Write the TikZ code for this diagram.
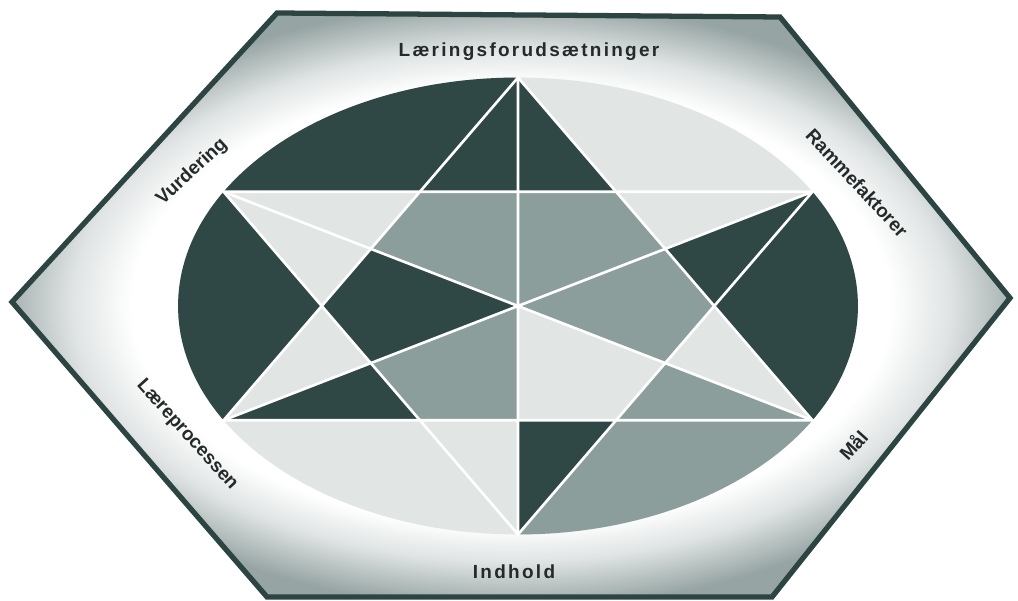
\documentclass[tikz,border=0pt]{standalone}
\usepackage{fontspec}
\setmainfont{Liberation Sans}
\newfontfamily\spacedfont[LetterSpace=12]{Liberation Sans}
\usetikzlibrary{calc}
\definecolor{StarDark}{HTML}{2F4745}
\definecolor{StarMid}{HTML}{8C9E9C}
\definecolor{StarLight}{HTML}{E1E5E4}
\definecolor{RimGray}{HTML}{96A4A3}
\definecolor{RimLine}{HTML}{2C4442}
\definecolor{LabelInk}{HTML}{242A2A}
\pgfdeclareradialshading{rimglow}{\pgfpoint{0bp}{0bp}}{%
  color(0bp)=(white); color(19bp)=(white); color(22bp)=(RimGray!30); color(26bp)=(RimGray); color(50bp)=(RimGray)}
\tikzset{
  darkpart/.style={fill=StarDark},
  midpart/.style={fill=StarMid},
  lightpart/.style={fill=StarLight},
  divider/.style={draw=white, line width=1.5pt},
  rimlabel/.style={font=\bfseries\fontsize{10.8}{13}\selectfont, text=LabelInk, inner sep=0pt},
  flatlabel/.style={rimlabel, font=\spacedfont\bfseries\fontsize{10.8}{13}\selectfont}
}

\begin{document}
\begin{tikzpicture}[x=0.02cm, y=-0.02cm]
    \useasboundingbox (0,0) rectangle (1018,601);

    % hexagon frame with the white glow round the ellipse
    \shadedraw[shading=rimglow, draw=RimLine, line width=3pt, line join=miter]
      (277,13) -- (780,17) -- (1010,298) -- (772,597) -- (267,597) -- (12,302) -- cycle;

    \begin{scope}[shift={(518,306)}, x=6.8cm, y=4.57cm]
      \foreach \a in {90,30,330,270,210,150} {
        \coordinate (o\a) at (\a:1);
        \coordinate (m\a) at (\a:0.5);
      }
      \foreach \a in {0,60,120,180,240,300}
        \coordinate (v\a) at (\a:0.57735);
      \coordinate (c) at (0,0);

      \begin{scope}
        \clip (0,0) ellipse[x radius=6.8cm, y radius=4.57cm];
        \fill[lightpart] (0,0) circle[radius=1.2];
        % caps between the star points
        \fill[darkpart] (o90) -- (v120) -- (o150) -- (150:1.6) -- (90:1.6) -- cycle;
        \fill[darkpart] (o30) -- (v0) -- (o330) -- (330:1.6) -- (30:1.6) -- cycle;
        \fill[darkpart] (o150) -- (v180) -- (o210) -- (210:1.6) -- (150:1.6) -- cycle;
        \fill[midpart] (o330) -- (v300) -- (o270) -- (270:1.6) -- (330:1.6) -- cycle;
        % star points
        \fill[darkpart] (o90) -- (v120) -- (v60) -- cycle;
        \fill[darkpart] (o30) -- (m30) -- (v0) -- cycle;
        \fill[midpart] (o330) -- (m330) -- (v300) -- cycle;
        \fill[darkpart] (o270) -- (v300) -- (m270) -- cycle;
        \fill[darkpart] (o210) -- (v240) -- (m210) -- cycle;
        % inner hexagon
        \fill[midpart] (c) -- (m90) -- (v120) -- (m150) -- cycle;
        \fill[midpart] (c) -- (m90) -- (v60) -- (m30) -- cycle;
        \fill[midpart] (c) -- (m30) -- (v0) -- (m330) -- cycle;
        \fill[midpart] (c) -- (m270) -- (v240) -- (m210) -- cycle;
        \fill[darkpart] (c) -- (m210) -- (v180) -- (m150) -- cycle;
      \end{scope}

      \draw[divider] (o90) -- (o210) -- (o330) -- cycle;
      \draw[divider] (o270) -- (o150) -- (o30) -- cycle;
      \draw[divider] (o90) -- (o270) (o150) -- (o330) (o30) -- (o210);
    \end{scope}

    % labels round the ring
    \node[flatlabel] (laering) at (529,52) {Læringsforudsætninger};
    \node[rimlabel, rotate=-47] (ramme) at (857,183) {Rammefaktorer};
    \node[rimlabel, rotate=48] (maal) at (853,445) {Mål};
    \node[flatlabel] (indhold) at (514,572) {Indhold};
    \node[rimlabel, rotate=-48] (laere) at (187,435) {Læreprocessen};
    \node[rimlabel, rotate=43] (vurd) at (192,172) {Vurdering};
  \end{tikzpicture}
\end{document}
